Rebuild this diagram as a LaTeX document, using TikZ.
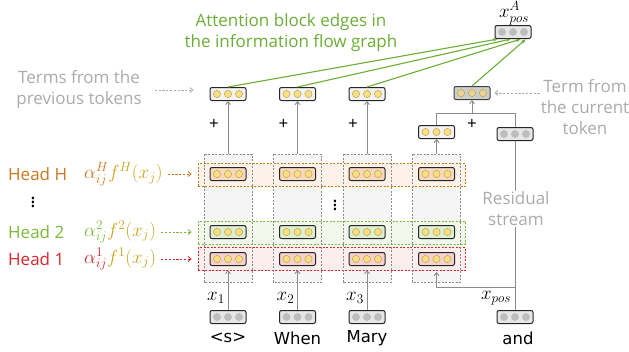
\RequirePackage{fix-cm}
\documentclass[tikz,border=0pt]{standalone}
\usepackage[no-math]{fontspec}
\setmainfont{Open Sans}
\newfontfamily\tokfont{DejaVu Sans}
\usepackage{xcolor}
\usepackage{tikz}
\usetikzlibrary{calc,arrows.meta}
\definecolor{title}{HTML}{6AAE35}
\definecolor{muted}{HTML}{ABABAB}
\definecolor{wire}{HTML}{8C8C8C}
\definecolor{headH}{HTML}{C8781E}
\definecolor{headB}{HTML}{7DB83A}
\definecolor{headA}{HTML}{D8262B}
\definecolor{gold}{HTML}{C9A21E}
\definecolor{doty}{HTML}{F8DF85}
\definecolor{dotyd}{HTML}{C6A447}
\definecolor{dotg}{HTML}{BDBDBD}
\definecolor{tokfill}{HTML}{E6E6E6}
\definecolor{outfill}{HTML}{F2F2F2}
\definecolor{sumfill}{HTML}{CDCDCD}
\definecolor{sumdot}{HTML}{E6D59A}
\definecolor{colfill}{HTML}{F5F5F5}
\definecolor{rowHfill}{HTML}{FDF2E7}
\definecolor{rowBfill}{HTML}{F3F8EC}
\definecolor{rowAfill}{HTML}{FDEEEE}
\definecolor{hHfill}{HTML}{F8D8BF}
\definecolor{hBfill}{HTML}{DDEFD3}
\definecolor{hAfill}{HTML}{F5D1D1}
\tikzset{
  vec/.style={draw=black!85, line width=1pt, rounded corners=2pt, minimum width=36pt, minimum height=13pt, inner sep=0pt},
  beads/.style 2 args={path picture={\foreach \k in {-11,0,11}
    \filldraw[draw=#2, fill=#1, line width=0.5pt] ([xshift=\k pt]path picture bounding box.center) circle (3.6pt);}},
  tokvec/.style={vec, fill=tokfill, beads={dotg}{dotg}},
  outvec/.style={vec, fill=outfill, beads={doty}{dotyd}},
  hvec/.style={vec, fill=#1, beads={doty}{dotyd}},
  sumvec/.style={vec, draw=black!75, fill=sumfill, beads={sumdot}{dotyd}},
  colbox/.style={fill=colfill, minimum width=48pt, minimum height=128pt, inner sep=0pt},
  colline/.style={draw=wire, line width=0.6pt, dash pattern=on 2pt off 1.5pt},
  rowbox/.style 2 args={draw=#1, fill=#2, line width=0.7pt, dash pattern=on 2pt off 1.5pt, minimum width=267pt, minimum height=23pt, inner sep=0pt},
  gline/.style={draw=wire, line width=0.9pt},
  garrow/.style={gline, -{Straight Barb[length=3pt,width=5pt]}},
  gedge/.style={draw=title, line width=1.1pt, -{Latex[length=4.5pt,width=3.5pt]}},
  dasharr/.style={draw=muted, line width=0.8pt, dash pattern=on 2.2pt off 1.6pt, -{Straight Barb[length=3pt,width=5pt]}},
  lab/.style={font=\fontsize{17}{21}\selectfont, inner sep=1pt},
  mutedlab/.style={lab, text=muted, align=center},
  toklab/.style={font=\tokfont\fontsize{16.5}{18}\selectfont},
  mlab/.style={font=\fontsize{19}{20}\selectfont, inner sep=1pt},
  plus/.style={font=\fontsize{17}{18}\selectfont, inner sep=0pt},
  vdot/.style={font=\fontsize{20}{20}\selectfont\boldmath, inner sep=0pt},
}
\begin{document}
\begin{tikzpicture}[x=1pt, y=-1pt]
  \useasboundingbox (0,0) rectangle (629,351);
  % columns and head rows
  \foreach \i/\x in {1/228,2/297.5,3/367,4/436.5}
    \node[colbox] (col\i) at (\x,218) {};
  \node[rowbox={headH}{rowHfill}] (rowH) at (331.5,175) {};
  \node[rowbox={headB}{rowBfill}] (rowB) at (331.5,232.5) {};
  \node[rowbox={headA}{rowAfill}] (rowA) at (331.5,259) {};
  \foreach \i in {1,...,4}
    \draw[colline] (col\i.south west) rectangle (col\i.north east);
  \foreach \i/\x in {1/228,2/297.5,3/367,4/436.5} {
    \node[hvec=hHfill] (hH\i) at (\x,174) {};
    \node[hvec=hBfill] (hB\i) at (\x,232) {};
    \node[hvec=hAfill] (hA\i) at (\x,259) {};
  }
  \node[vdot] (vd2) at (335,202) {$\vdots$};
  % tokens
  \foreach \i/\x/\t in {1/228/{<s>},2/297.5/When,3/367/Mary} {
    \node[tokvec] (tok\i) at (\x,317) {};
    \node[toklab] (tl\i) at (\x,338) {\t};
    \node[mlab] (x\i) at (\x-12,298) {$x_\i$};
    \draw[garrow, shorten >=4pt] (tok\i) -- (hA\i);
  }
  \node[tokvec] (tokp) at (515,317) {};
  \node[toklab] (tlp) at (518,338) {and};
  \node[mlab] (xp) at (496,298) {$x_{pos}$};
  % outputs of the columns
  \foreach \i/\x in {1/228,2/297.5,3/367} {
    \node[outvec] (out\i) at (\x,94) {};
    \node[plus] (p\i) at (\x-14,124) {+};
    \draw[garrow] (col\i.north) -- (out\i);
  }
  \node[outvec] (out4) at (436.5,132) {};
  \draw[garrow] (col4.north) -- (out4);
  \node[tokvec] (res) at (515,134) {};
  \node[sumvec] (sum) at (472,93) {};
  \node[plus] (p4) at (472,124) {+};
  \coordinate (jn) at (472,113);
  \draw[gline] (out4.north) |- (jn);
  \draw[gline] (res.north) |- (jn);
  \draw[garrow] (jn) -- (sum);
  % residual stream
  \coordinate (br) at (515,287);
  \draw[gline] (tokp) -- (res);
  \draw[garrow, shorten >=6pt] (br) -| (hA4);
  \node[mutedlab, fill=white] (rs) at (516,209) {Residual\\stream};
  % attention output
  \node[tokvec] (xA) at (513,32) {};
  \node[mlab] (xAl) at (514,13) {$x^A_{pos}$};
  \draw[gedge] (out1.north) -- ($(xA.south)+(-15,0)$);
  \draw[gedge] (out2.north) -- ($(xA.south)+(-2,0)$);
  \draw[gedge] (out3.north) -- ($(xA.south)+(8,0)$);
  \draw[gedge] (sum.north) -- ($(xA.south)+(13,0)$);
  \node[lab, text=title, align=center] (ttl) at (291,33) {Attention block edges in\\the information flow graph};
  \node[mutedlab] (tprev) at (79,90) {Terms from the\\previous tokens};
  \draw[dasharr] ([xshift=12pt]tprev.east) -- ([xshift=-16pt]tprev.east -| out1.west);
  \node[mutedlab] (tcur) at (585,107) {Term from\\the current\\token};
  \draw[dasharr, shorten >=4pt] (tcur.west |- sum) -- (sum);
  % heads
  \foreach \n/\y/\c/\k in {H/174/headH/H, B/232/headB/2, A/259/headA/1} {
    \node[lab, text=\c, anchor=west] (lab\n) at (7,\y) {Head \k};
    \node[mlab, text=gold, anchor=west] (f\n) at (83,\y) {$\textcolor{\c}{\alpha^{\k}_{ij}}f^{\k}(x_j)$};
    \draw[dasharr, draw=\c, shorten <=4pt, shorten >=6pt] (f\n.east) -- (f\n.east -| row\n.west);
  }
  \node[vdot] (vd1) at (33,199) {$\vdots$};
\end{tikzpicture}
\end{document}
